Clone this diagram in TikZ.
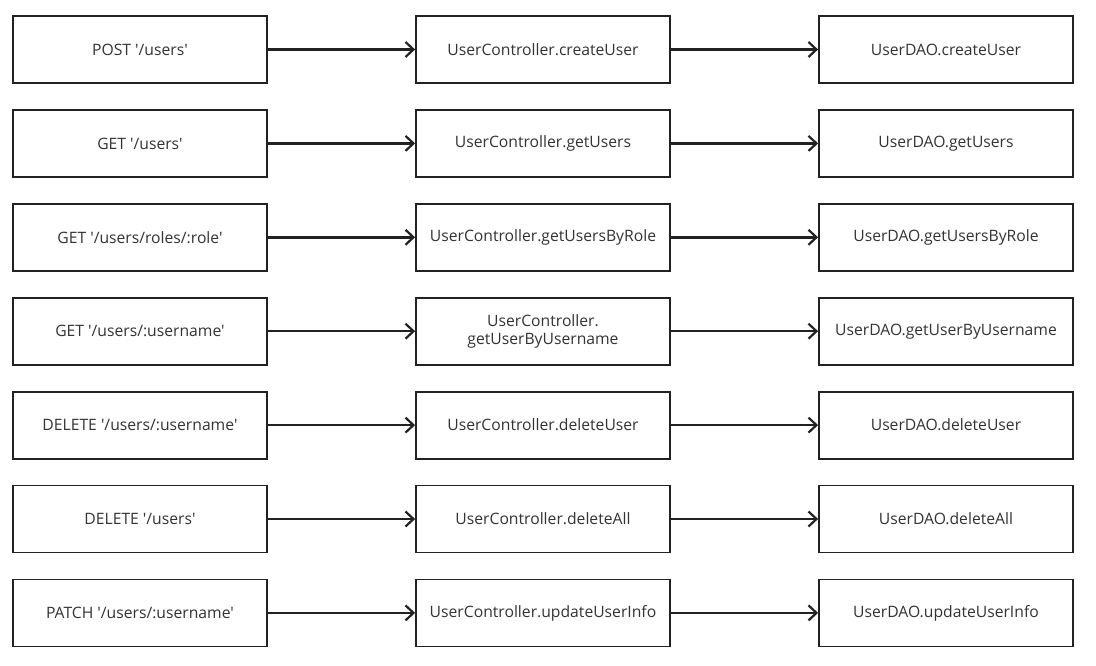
\documentclass[tikz,border=0pt]{standalone}
\usepackage{fontspec}
\newfontfamily\boxfont{Open Sans}
\usetikzlibrary{arrows.meta}
\definecolor{edge}{HTML}{222222}
\definecolor{txt}{HTML}{333333}
\begin{document}
\begin{tikzpicture}[x=1pt,y=-1pt,
  box/.style={draw=edge,line width=1.8pt,minimum width=254pt,minimum height=67pt,inner sep=2pt,align=center,font=\boxfont\fontsize{15.7}{18}\selectfont,text=txt},
  link/.style={draw=edge,line width=2.4pt,-{Straight Barb[length=8pt,width=15pt,line width=2.2pt]}}]
\useasboundingbox (0,0) rectangle (1096,666);
\foreach \i/\a/\b/\c in {
  0/{POST '/users'}/{UserController.createUser}/{UserDAO.createUser},
  1/{GET '/users'}/{UserController.getUsers}/{UserDAO.getUsers},
  2/{GET '/users/roles/:role'}/{UserController.getUsersByRole}/{UserDAO.getUsersByRole},
  3/{GET '/users/:username'}/{UserController.\\getUserByUsername}/{UserDAO.getUserByUsername},
  4/{DELETE '/users/:username'}/{UserController.deleteUser}/{UserDAO.deleteUser},
  5/{DELETE '/users'}/{UserController.deleteAll}/{UserDAO.deleteAll},
  6/{PATCH '/users/:username'}/{UserController.updateUserInfo}/{UserDAO.updateUserInfo}}{
  \node[box] (r\i) at (140,{49.5+93.9*\i}) {\a};
  \node[box] (c\i) at (543,{49.5+93.9*\i}) {\b};
  \node[box] (d\i) at (946,{49.5+93.9*\i}) {\c};
  \draw[link] (r\i) -- (c\i);
  \draw[link] (c\i) -- (d\i);
}
\end{tikzpicture}
\end{document}
